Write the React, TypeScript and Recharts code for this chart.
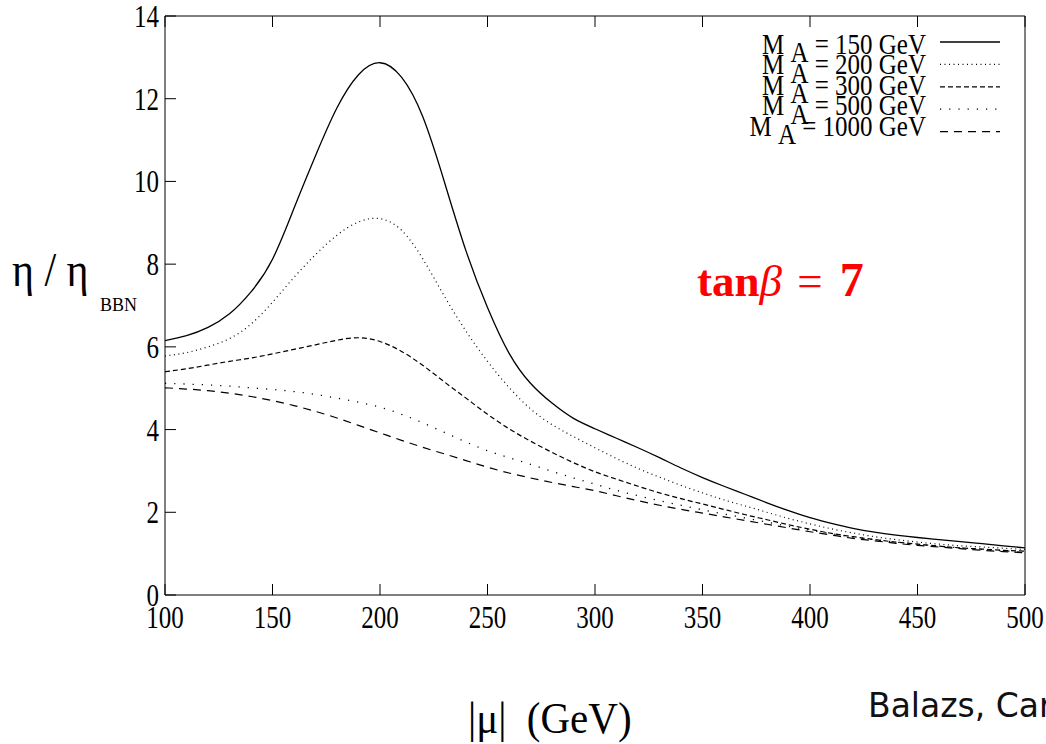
import { LineChart, Line, XAxis, YAxis } from 'recharts';

// |mu| in GeV
const muValues = [
  100, 110, 120, 130, 140, 150, 160, 170, 180, 190, 200, 210, 220, 230, 240, 250, 260, 270, 280, 290, 300,
  310, 320, 330, 340, 350, 360, 370, 380, 390, 400, 410, 420, 430, 440, 450, 460, 470, 480, 490, 500,
];

// eta / eta_BBN for each M_A
const ma150 = [
  6.15, 6.27, 6.47, 6.8, 7.33, 8.12, 9.35, 10.62, 11.78, 12.58, 12.87, 12.52, 11.55, 9.98, 8.32, 6.95, 5.85,
  5.12, 4.64, 4.27, 4.02, 3.79, 3.56, 3.32, 3.07, 2.84, 2.63, 2.43, 2.23, 2.04, 1.87, 1.73, 1.61, 1.52, 1.45,
  1.39, 1.34, 1.29, 1.24, 1.19, 1.14,
];
const ma200 = [
  5.78, 5.86, 6.0, 6.2, 6.55, 7.08, 7.68, 8.23, 8.7, 9.02, 9.1, 8.82, 8.12, 7.22, 6.38, 5.65, 5.02, 4.5, 4.12,
  3.83, 3.56, 3.3, 3.06, 2.85, 2.65, 2.47, 2.3, 2.15, 2.0, 1.85, 1.72, 1.6, 1.5, 1.41, 1.34, 1.28, 1.23, 1.19,
  1.16, 1.13, 1.1,
];
const ma300 = [
  5.4, 5.47, 5.56, 5.65, 5.73, 5.83, 5.94, 6.05, 6.16, 6.22, 6.13, 5.89, 5.55, 5.15, 4.76, 4.37, 4.02, 3.72,
  3.45, 3.2, 2.98, 2.8, 2.63, 2.47, 2.33, 2.2, 2.07, 1.94, 1.82, 1.7, 1.59, 1.49, 1.41, 1.34, 1.28, 1.23,
  1.18, 1.14, 1.11, 1.08, 1.06,
];
const ma500 = [
  5.12, 5.1, 5.08, 5.05, 5.01, 4.97, 4.92, 4.85, 4.76, 4.66, 4.54, 4.37, 4.16, 3.93, 3.7, 3.49, 3.32, 3.16,
  2.99, 2.83, 2.68, 2.53, 2.4, 2.28, 2.17, 2.06, 1.96, 1.86, 1.76, 1.66, 1.57, 1.48, 1.4, 1.34, 1.28, 1.23,
  1.18, 1.14, 1.1, 1.07, 1.04,
];
const ma1000 = [
  5.01, 4.98, 4.94, 4.88, 4.8, 4.7, 4.58, 4.44, 4.28, 4.1, 3.92, 3.74, 3.57, 3.41, 3.25, 3.09, 2.95, 2.83,
  2.72, 2.62, 2.52, 2.4, 2.28, 2.17, 2.07, 1.98, 1.89, 1.8, 1.71, 1.62, 1.53, 1.45, 1.37, 1.31, 1.25, 1.2,
  1.16, 1.12, 1.08, 1.05, 1.02,
];

const xTicks = [100, 150, 200, 250, 300, 350, 400, 450, 500];
const yTicks = [0, 2, 4, 6, 8, 10, 12, 14];
const legendLabels = ['150', '200', '300', '500', '1000'];

const series = [
  { key: 'ma150', dash: undefined, width: 1.3 },
  { key: 'ma200', dash: '1 3.5', width: 1.2 },
  { key: 'ma300', dash: '5 3', width: 1.2 },
  { key: 'ma500', dash: '1.2 8', width: 1.3 },
  { key: 'ma1000', dash: '8 6', width: 1.2 },
];

const data = muValues.map((mu, i) => ({
  mu,
  ma150: ma150[i],
  ma200: ma200[i],
  ma300: ma300[i],
  ma500: ma500[i],
  ma1000: ma1000[i],
}));

const SERIF = '"Liberation Serif", "Times New Roman", serif';

// gnuplot-style text: a bit taller than wide
const XTick = (props: any) => {
  const { x, y, payload } = props;
  return (
    <text
      transform={`translate(${x},${y}) scale(1,1.3)`}
      y={25.5}
      textAnchor="middle"
      fontFamily={SERIF}
      fontSize={25}
      fill="#000"
    >
      {payload.value}
    </text>
  );
};

const YTick = (props: any) => {
  const { x, y, payload } = props;
  return (
    <text
      transform={`translate(${x - 6},${y}) scale(1,1.3)`}
      y={8.5}
      textAnchor="end"
      fontFamily={SERIF}
      fontSize={25}
      fill="#000"
    >
      {payload.value}
    </text>
  );
};

const NoTick = () => <g />;

function LegendBox() {
  return (
    <svg width={300} height={160} style={{ position: 'absolute', left: 720, top: 0 }}>
      {series.map((s, i) => (
        <g key={s.key}>
          <text
            transform={`translate(206,${54 + i * 20.4}) scale(1,1.2)`}
            textAnchor="end"
            fontFamily={SERIF}
            fontSize={25}
            fill="#000"
            xmlSpace="preserve"
          >
            <tspan>M </tspan>
            <tspan dy={7}>A</tspan>
            <tspan dy={-7}>{' = ' + legendLabels[i] + ' GeV'}</tspan>
          </text>
          <line
            x1={220}
            x2={280}
            y1={42 + i * 22.4}
            y2={42 + i * 22.4}
            stroke="#000"
            strokeWidth={s.width}
            strokeDasharray={s.dash}
          />
        </g>
      ))}
    </svg>
  );
}

export default function App() {
  return (
    <div style={{ position: 'absolute', left: 0, top: 0, width: 1046, height: 744, background: '#fff', overflow: 'hidden' }}>
      <LineChart width={1046} height={744} data={data} margin={{ top: 15, right: 20, left: 125, bottom: 119 }}>
        <XAxis
          xAxisId="b"
          dataKey="mu"
          type="number"
          domain={[100, 500]}
          ticks={xTicks}
          height={30}
          tickSize={-11}
          tickMargin={11}
          tick={<XTick />}
          stroke="#000"
          allowDataOverflow
        />
        <XAxis
          xAxisId="t"
          orientation="top"
          dataKey="mu"
          type="number"
          domain={[100, 500]}
          ticks={xTicks}
          height={1}
          tickSize={-11}
          tick={<NoTick />}
          stroke="#000"
        />
        <YAxis
          yAxisId="l"
          type="number"
          domain={[0, 14]}
          ticks={yTicks}
          width={40}
          tickSize={-11}
          tickMargin={11}
          tick={<YTick />}
          stroke="#000"
          allowDataOverflow
        />
        <YAxis
          yAxisId="r"
          orientation="right"
          type="number"
          domain={[0, 14]}
          ticks={yTicks}
          width={1}
          tickSize={-11}
          tick={<NoTick />}
          stroke="#000"
        />
        {series.map((s) => (
          <Line
            key={s.key}
            xAxisId="b"
            yAxisId="l"
            type="natural"
            dataKey={s.key}
            stroke="#000"
            strokeWidth={s.width}
            strokeDasharray={s.dash}
            dot={false}
            isAnimationActive={false}
          />
        ))}
      </LineChart>

      <LegendBox />

      <svg width={1046} height={744} style={{ position: 'absolute', left: 0, top: 0, pointerEvents: 'none' }}>
        <text transform="translate(12,286) scale(1,1.15)" fontFamily={SERIF} fontSize={42} fill="#000">
          η / η
        </text>
        <text x={100} y={311} fontFamily={SERIF} fontSize={18} fill="#000">
          BBN
        </text>
        <text x={697} y={296} fontFamily={SERIF} fontSize={45} fill="#f00" xmlSpace="preserve">
          <tspan fontWeight="bold">tan</tspan>
          <tspan fontStyle="italic">β</tspan>
          <tspan dx={4}> = </tspan>
          <tspan fontWeight="bold" dx={6} fontSize={48}>7</tspan>
        </text>
        <text transform="translate(468,733) scale(1,1.1)" fontFamily={SERIF} fontSize={41} fill="#000" xmlSpace="preserve">
          |μ|  (GeV)
        </text>
        <text x={868} y={717} fontFamily='"DejaVu Sans", sans-serif' fontSize={33} fill="#111">
          Balazs, Carena
        </text>
      </svg>
    </div>
  );
}
